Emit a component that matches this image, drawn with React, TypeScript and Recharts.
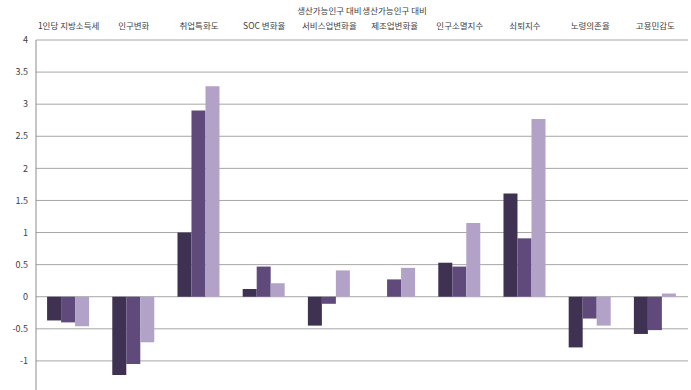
import { BarChart, Bar, XAxis, YAxis, CartesianGrid, ReferenceLine } from "recharts";

const categories = [
  "1인당 지방소득세",
  "인구변화",
  "취업특화도",
  "SOC 변화율",
  "생산가능인구 대비\n서비스업변화율",
  "생산가능인구 대비\n제조업변화율",
  "인구소멸지수",
  "쇠퇴지수",
  "노령의존율",
  "고용민감도",
];

const series1 = [-0.37, -1.22, 1.0, 0.12, -0.45, 0, 0.53, 1.61, -0.79, -0.58];
const series2 = [-0.4, -1.05, 2.9, 0.47, -0.11, 0.27, 0.47, 0.91, -0.34, -0.52];
const series3 = [-0.46, -0.71, 3.28, 0.21, 0.41, 0.45, 1.15, 2.77, -0.45, 0.05];

const yTicks = [-1.5, -1, -0.5, 0, 0.5, 1, 1.5, 2, 2.5, 3, 3.5, 4];

const data = categories.map((name, i) => ({
  name,
  a: series1[i],
  b: series2[i],
  c: series3[i],
}));

const font = "'Noto Sans CJK KR', 'Noto Sans', sans-serif";

function CategoryTick(props: any) {
  const { x, payload } = props;
  const lines = String(payload.value).split("\n");
  const start = lines.length === 1 ? 27 : 12;
  return (
    <g>
      {lines.map((line, i) => (
        <text
          key={i}
          x={x}
          y={start + i * 15}
          textAnchor="middle"
          dominantBaseline="middle"
          fontSize={8.5}
          fontFamily={font}
          fill="#404040"
        >
          {line}
        </text>
      ))}
    </g>
  );
}

export default function App() {
  return (
    <div style={{ position: "absolute", left: 0, top: 0, background: "#fff" }}>
      <BarChart
        width={691}
        height={396}
        data={data}
        margin={{ top: 0, right: 3, bottom: 3, left: 0 }}
        barCategoryGap="17%"
        barGap={0}
      >
        <CartesianGrid vertical={false} stroke="#a6a6a6" />
        <ReferenceLine y={4} stroke="#d4d4d4" strokeWidth={2} />
        <XAxis
          dataKey="name"
          orientation="top"
          height={40}
          axisLine={false}
          tickLine={false}
          interval={0}
          tick={<CategoryTick />}
        />
        <YAxis
          width={36}
          domain={[-1.5, 4]}
          ticks={yTicks}
          allowDataOverflow
          axisLine={{ stroke: "#8c8c8c" }}
          tickLine={false}
          tickSize={0}
          tickMargin={8}
          tick={{ fontSize: 9, fontFamily: font, fill: "#404040" }}
        />
        <Bar dataKey="a" fill="#3f3151" isAnimationActive={false} />
        <Bar dataKey="b" fill="#604a7b" isAnimationActive={false} />
        <Bar dataKey="c" fill="#b3a2c7" isAnimationActive={false} />
      </BarChart>
    </div>
  );
}
